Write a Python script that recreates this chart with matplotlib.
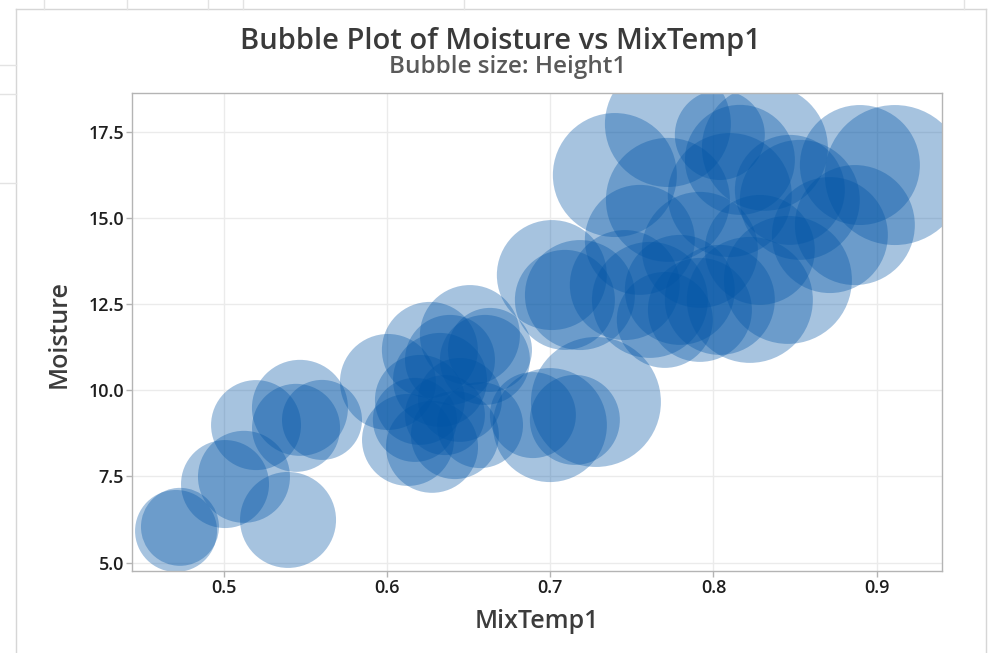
import numpy as np
import matplotlib
matplotlib.use("Agg")
import matplotlib.pyplot as plt
from matplotlib.lines import Line2D

plt.rcParams['font.family'] = ['Open Sans', 'DejaVu Sans']

# MixTemp1, Moisture, Height1 per run
mix_temp = [0.4708, 0.4732, 0.5008, 0.5124, 0.5394, 0.5198, 0.5467, 0.5443, 0.5602,
            0.6006, 0.6129, 0.6276, 0.6416, 0.6570, 0.6202, 0.6325, 0.6386, 0.6508,
            0.6263, 0.6447, 0.6600, 0.6171, 0.6355, 0.6631,
            0.6998, 0.7151, 0.7280, 0.6894, 0.7010, 0.7090, 0.7182,
            0.7457, 0.7611, 0.7794, 0.7917, 0.7702, 0.8039, 0.7549, 0.7917, 0.8223,
            0.8456, 0.8284,
            0.7396, 0.7721, 0.8039, 0.8162, 0.8315, 0.8897, 0.9111, 0.8866, 0.8529,
            0.8713, 0.7721, 0.8100, 0.8468]
moisture = [5.92, 6.04, 7.28, 7.49, 6.24, 8.99, 9.49, 8.91, 9.14,
            10.24, 8.56, 8.36, 8.70, 8.99, 9.72, 10.30, 10.88, 11.60,
            11.17, 9.72, 10.88, 9.14, 9.28, 11.17,
            8.99, 9.14, 9.66, 9.28, 13.34, 12.62, 12.76,
            13.05, 12.62, 12.91, 12.33, 12.04, 12.62, 14.36, 14.07, 12.62,
            13.20, 14.07,
            16.24, 17.72, 17.40, 16.68, 17.03, 16.53, 16.24, 14.79, 15.52,
            14.50, 15.52, 15.66, 15.81]
height = [4.20, 3.80, 4.84, 5.29, 5.76, 5.06, 5.76, 4.84, 4.00,
          5.76, 5.29, 5.29, 4.84, 4.62, 5.06, 5.52, 5.06, 6.25,
          5.76, 4.41, 5.06, 4.41, 4.00, 4.41,
          8.12, 5.06, 10.56, 4.62, 7.56, 6.25, 7.56,
          7.56, 8.41, 7.56, 6.76, 5.76, 7.56, 7.56, 8.41, 9.92,
          10.24, 7.56,
          9.61, 9.92, 5.06, 7.56, 9.92, 9.00, 12.25, 9.00, 9.00,
          8.41, 9.61, 9.61, 7.56]

x_ticks = [0.5, 0.6, 0.7, 0.8, 0.9]
y_ticks = [5.0, 7.5, 10.0, 12.5, 15.0, 17.5]

DPI = 100
fig = plt.figure(figsize=(9.97, 6.53), dpi=DPI)
fig.patch.set_facecolor('white')

# window frame and the sheet grid behind it
frame_c = '#d6d6d6'
W, H = 997.0, 653.0
def fline(x0, y0, x1, y1, c=frame_c, lw=1.0):
    fig.add_artist(Line2D([x0 / W, x1 / W], [1 - y0 / H, 1 - y1 / H],
                          color=c, lw=lw, transform=fig.transFigure))
fline(16, 9, 16, 653)
fline(16, 9, 986, 9)
fline(986, 9, 986, 653)
for xv in [44, 127, 208, 243, 464, 964]:
    fline(xv, 0, xv, 9, c='#e3e3e3')
for yv in [65, 94, 183]:
    fline(0, yv, 16, yv, c='#e3e3e3')

ax = fig.add_axes([132.3 / W, 1 - 570.7 / H, (942 - 132.3) / W, (570.7 - 93.3) / H])

# bubble radius in pixels grows with sqrt(Height1)
h = np.array(height)
r_px = 20 * np.sqrt(h)
s = (2 * r_px * 72.0 / DPI) ** 2
ax.scatter(mix_temp, moisture, s=s, color='#0054a6', alpha=0.35,
           linewidths=0, zorder=3)

ax.set_xlim(0.444, 0.940)
ax.set_ylim(4.768, 18.61)
ax.set_xticks(x_ticks)
ax.set_yticks(y_ticks)
ax.set_xticklabels([f'{v:.1f}' for v in x_ticks])
ax.set_yticklabels([f'{v:.1f}' for v in y_ticks])
ax.grid(True, color='#ebebeb', lw=1.0, zorder=0)
ax.set_axisbelow(True)
for sp in ax.spines.values():
    sp.set_color('#b4b4b4')
    sp.set_linewidth(1.0)
    sp.set_zorder(5)
ax.tick_params(axis='both', length=4, width=1, color='#b4b4b4', pad=2,
               labelsize=13, labelcolor='#1e1e1e')
for lab in ax.get_xticklabels() + ax.get_yticklabels():
    lab.set_fontweight('semibold')

fig.text(59 / W, 1 - 334 / H, 'Moisture', rotation=90, ha='center', va='center',
         fontsize=18, fontweight='semibold', color='#3c3c3c')
fig.text(537 / W, 1 - 621 / H, 'MixTemp1', ha='center', va='center',
         fontsize=18, fontweight='semibold', color='#3c3c3c')

fig.text(500 / W, 1 - 49 / H, 'Bubble Plot of Moisture vs MixTemp1', ha='center',
         va='baseline', fontsize=21, fontweight='semibold', color='#3a3a3a')
fig.text(508 / W, 1 - 73 / H, 'Bubble size: Height1', ha='center',
         va='baseline', fontsize=17.5, fontweight='semibold', color='#5a5a5a')

fig.savefig('out.png', dpi=DPI)
